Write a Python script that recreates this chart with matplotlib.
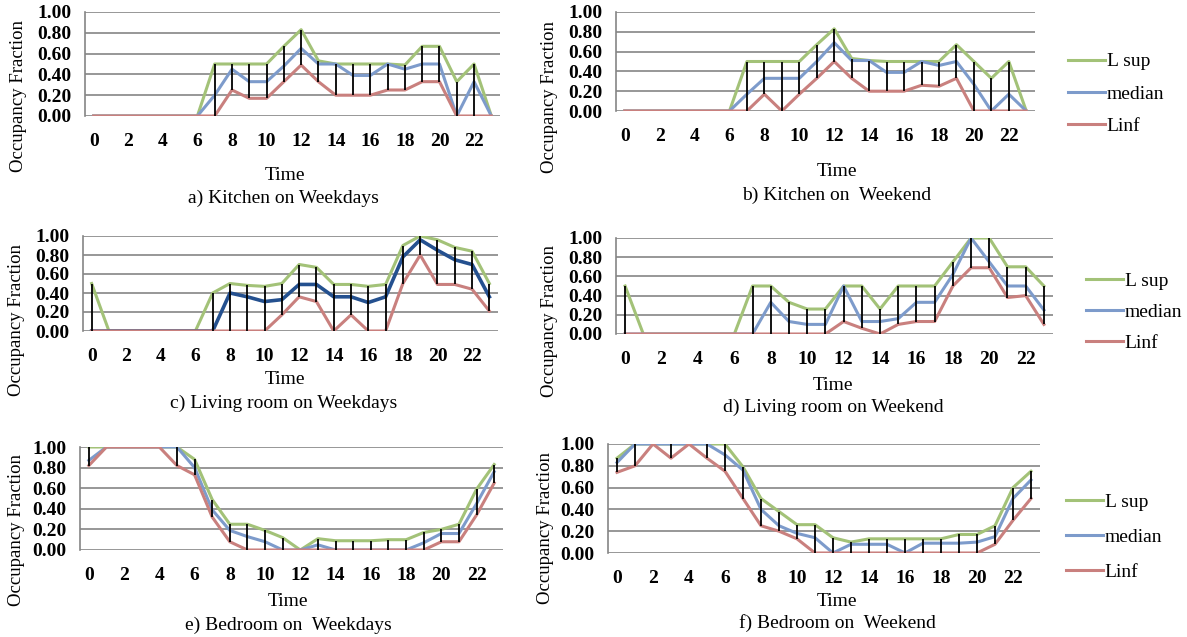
import matplotlib
matplotlib.use('Agg')
import matplotlib.pyplot as plt
import numpy as np

plt.rcParams['font.family'] = ['Liberation Serif', 'DejaVu Serif']

hours = list(range(24))
xtick_labels = ['0', '2', '4', '6', '8', '10', '12', '14', '16', '18', '20', '22']
ytick_values = [0.0, 0.2, 0.4, 0.6, 0.8, 1.0]
series_names = ['L sup', 'median', 'Linf']

# a) Kitchen on Weekdays
a_sup = [0, 0, 0, 0, 0, 0, 0, 0.5, 0.5, 0.5, 0.5, 0.67, 0.83, 0.53, 0.5, 0.5, 0.5, 0.5, 0.49, 0.67, 0.67, 0.33, 0.5, 0]
a_med = [0, 0, 0, 0, 0, 0, 0, 0.2, 0.45, 0.33, 0.33, 0.48, 0.65, 0.5, 0.5, 0.39, 0.39, 0.5, 0.45, 0.5, 0.5, 0, 0.33, 0]
a_inf = [0, 0, 0, 0, 0, 0, 0, 0, 0.25, 0.17, 0.17, 0.33, 0.49, 0.33, 0.2, 0.2, 0.2, 0.25, 0.25, 0.33, 0.33, 0, 0, 0]

# b) Kitchen on Weekend
b_sup = [0, 0, 0, 0, 0, 0, 0, 0.5, 0.5, 0.5, 0.5, 0.67, 0.83, 0.53, 0.51, 0.5, 0.5, 0.5, 0.5, 0.67, 0.5, 0.33, 0.5, 0]
b_med = [0, 0, 0, 0, 0, 0, 0, 0.17, 0.33, 0.33, 0.33, 0.5, 0.69, 0.51, 0.51, 0.39, 0.39, 0.5, 0.46, 0.5, 0.27, 0, 0.17, 0]
b_inf = [0, 0, 0, 0, 0, 0, 0, 0, 0.17, 0, 0.17, 0.33, 0.5, 0.33, 0.2, 0.2, 0.2, 0.26, 0.25, 0.33, 0, 0, 0, 0]

# c) Living room on Weekdays
c_sup = [0.5, 0, 0, 0, 0, 0, 0, 0.4, 0.5, 0.48, 0.47, 0.5, 0.7, 0.67, 0.49, 0.49, 0.47, 0.49, 0.9, 1.0, 0.96, 0.88, 0.84, 0.5]
c_med = [0, 0, 0, 0, 0, 0, 0, 0, 0.4, 0.36, 0.31, 0.33, 0.49, 0.49, 0.36, 0.36, 0.3, 0.36, 0.78, 0.96, 0.85, 0.75, 0.7, 0.36]
c_inf = [0, 0, 0, 0, 0, 0, 0, 0, 0, 0, 0, 0.17, 0.36, 0.31, 0, 0.17, 0, 0, 0.5, 0.8, 0.49, 0.49, 0.44, 0.21]

# d) Living room on Weekend
d_sup = [0.5, 0, 0, 0, 0, 0, 0, 0.5, 0.5, 0.33, 0.26, 0.26, 0.5, 0.5, 0.26, 0.5, 0.5, 0.5, 0.75, 1.0, 1.0, 0.7, 0.7, 0.5]
d_med = [0, 0, 0, 0, 0, 0, 0, 0, 0.33, 0.13, 0.1, 0.1, 0.5, 0.13, 0.13, 0.16, 0.33, 0.33, 0.62, 1.0, 0.75, 0.5, 0.5, 0.25]
d_inf = [0, 0, 0, 0, 0, 0, 0, 0, 0, 0, 0, 0, 0.13, 0.06, 0, 0.1, 0.13, 0.13, 0.5, 0.69, 0.69, 0.38, 0.4, 0.1]

# e) Bedroom on Weekdays
e_sup = [1.0, 1.0, 1.0, 1.0, 1.0, 1.0, 0.88, 0.49, 0.25, 0.25, 0.19, 0.12, 0, 0.11, 0.09, 0.09, 0.09, 0.1, 0.1, 0.17, 0.2, 0.25, 0.59, 0.83]
e_med = [0.87, 1.0, 1.0, 1.0, 1.0, 1.0, 0.8, 0.39, 0.19, 0.13, 0.08, 0, 0, 0.05, 0, 0, 0, 0, 0, 0.07, 0.16, 0.16, 0.45, 0.76]
e_inf = [0.82, 1.0, 1.0, 1.0, 1.0, 0.82, 0.73, 0.32, 0.08, 0, 0, 0, 0, 0, 0, 0, 0, 0, 0, 0, 0.08, 0.08, 0.34, 0.65]

# f) Bedroom on Weekend
f_sup = [0.87, 1.0, 1.0, 1.0, 1.0, 1.0, 1.0, 0.79, 0.5, 0.38, 0.26, 0.26, 0.14, 0.1, 0.13, 0.13, 0.13, 0.13, 0.13, 0.17, 0.17, 0.25, 0.6, 0.75]
f_med = [0.83, 1.0, 1.0, 1.0, 1.0, 1.0, 0.9, 0.76, 0.4, 0.25, 0.18, 0.14, 0, 0.08, 0.08, 0.08, 0, 0.09, 0.09, 0.09, 0.1, 0.15, 0.5, 0.67]
f_inf = [0.74, 0.8, 1.0, 0.87, 1.0, 0.87, 0.75, 0.5, 0.25, 0.2, 0.13, 0, 0, 0, 0, 0, 0, 0, 0, 0, 0, 0.08, 0.3, 0.5]

W, H = 1187, 637
fig = plt.figure(figsize=(W / 100, H / 100), dpi=100)

green = '#A3C278'
blue = '#7D9BCB'
red = '#C9807E'
grid_col = '#858585'
FS = 14


def px_axes(left, right, top, bottom):
    return fig.add_axes([left / W, 1 - bottom / H, (right - left) / W, (bottom - top) / H])


def fig_text(x, y, s, **kw):
    fig.text(x / W, 1 - y / H, s, ha='center', va='center', fontsize=FS, **kw)


panels = [
    # data, axes box (px), time label pos, caption, caption pos, ylabel pos
    ((a_sup, a_med, a_inf), (85, 500, 12, 116), (285, 175), 'a) Kitchen on Weekdays', (283, 198), (19, 96)),
    ((b_sup, b_med, b_inf), (616, 1035, 12, 111), (837, 172), 'b) Kitchen on  Weekend', (837, 195), (549, 97)),
    ((c_sup, c_med, c_inf), (83, 498, 236, 331), (285, 380), 'c) Living room on Weekdays', (284, 403), (17, 320)),
    ((d_sup, d_med, d_inf), (616, 1053, 238, 334), (833, 385), 'd) Living room on Weekend', (833, 407), (549, 321)),
    ((e_sup, e_med, e_inf), (80, 503, 447, 550), (288, 602), 'e) Bedroom on  Weekdays', (288, 625), (17, 530)),
    ((f_sup, f_med, f_inf), (608, 1040, 444, 553), (837, 602), 'f) Bedroom on  Weekend', (837, 623), (545, 528)),
]

axes = []
for i, (data, box, tpos, caption, cpos, ypos) in enumerate(panels):
    ax = px_axes(*box)
    sup, med, inf = [np.array(v) for v in data]
    med_col = '#24508F' if i == 2 else blue
    med_lw = 2.6 if i == 2 else 2.2
    ax.plot(hours, sup, color=green, lw=2.2, label=series_names[0], zorder=3)
    ax.plot(hours, med, color=med_col, lw=med_lw, label=series_names[1], zorder=3)
    ax.plot(hours, inf, color=red, lw=2.2, label=series_names[2], zorder=3)
    lo = np.minimum(np.minimum(sup, med), inf)
    hi = np.maximum(np.maximum(sup, med), inf)
    ax.vlines(hours, lo, hi, color='black', lw=1.3, zorder=4)

    ax.set_xlim(-0.5, 23.5)
    ax.set_ylim(0, 1.0)
    ax.set_xticks(hours[::2])
    ax.set_xticklabels(xtick_labels)
    ax.set_yticks(ytick_values)
    ax.set_yticklabels(['%.2f' % v for v in ytick_values])
    ax.tick_params(axis='both', length=0, labelsize=FS)
    ax.tick_params(axis='y', pad=10)
    ax.tick_params(axis='x', pad=12)
    for t in ax.get_yticklabels() + ax.get_xticklabels():
        t.set_fontweight('bold')
    ax.yaxis.grid(True, color=grid_col, lw=1.2)
    ax.set_axisbelow(True)
    for s in ['top', 'right', 'bottom']:
        ax.spines[s].set_visible(False)
    ax.spines['left'].set_color(grid_col)
    ax.spines['left'].set_linewidth(1.2)

    fig_text(*tpos, 'Time')
    fig_text(*cpos, caption)
    fig.text(ypos[0] / W, 1 - ypos[1] / H, 'Occupancy Fraction', rotation=90,
             ha='center', va='center', fontsize=FS - 0.5)
    axes.append(ax)

# legends beside the right-hand panels: axes index, line start x, middle row y (px), row spacing
legend_pos = [(1, 1068, 94, 0.76), (3, 1086, 312, 0.68), (5, 1066, 537, 0.89)]
for idx, lx, ly, sp in legend_pos:
    ax = axes[idx]
    ax.legend(loc='center left', bbox_to_anchor=(lx / W, 1 - ly / H),
              bbox_transform=fig.transFigure, frameon=False, fontsize=FS,
              handlelength=1.9, handletextpad=0.1, labelspacing=sp,
              borderpad=0, borderaxespad=0)

plt.savefig('out.png', dpi=100)
